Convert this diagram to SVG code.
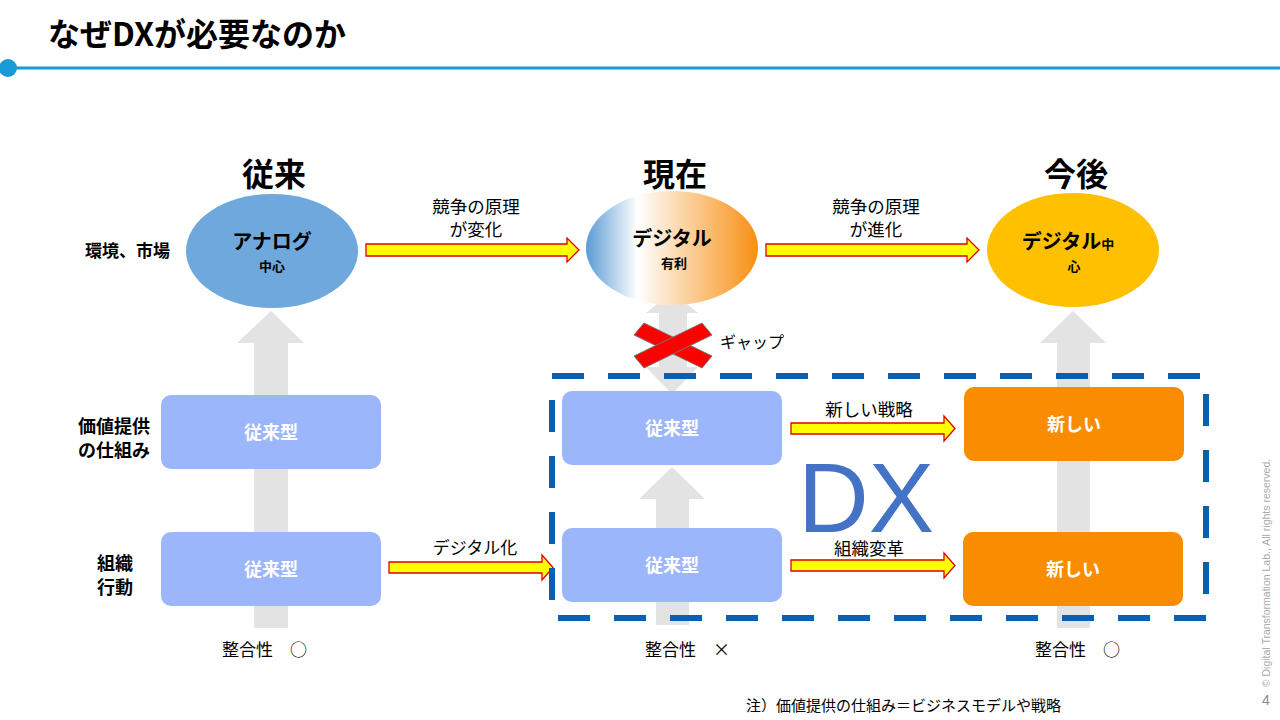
<svg xmlns="http://www.w3.org/2000/svg" width="1280" height="720" viewBox="0 0 1280 720">
<defs>
<linearGradient id="gMid" x1="0" y1="0" x2="1" y2="0">
<stop offset="0" stop-color="#5b9bd5"/>
<stop offset="0.3" stop-color="#ffffff"/>
<stop offset="1" stop-color="#f88f12"/>
</linearGradient>
<style>
text{font-family:"Noto Sans CJK JP","Noto Sans",sans-serif;fill:#000}
.h{font-size:32px;font-weight:bold;text-anchor:middle}
.lbl{font-size:18px;font-weight:bold}
.t{font-size:17.5px;text-anchor:middle}
.bx{font-size:18px;font-weight:bold;fill:#fff;text-anchor:middle}
.e1{font-size:20px;font-weight:bold;text-anchor:middle}
.e2{font-size:13px;font-weight:bold;text-anchor:middle}
.blue{fill:#9cb6fb}
.orange{fill:#f98c00}
.gray{fill:#e3e3e3}
.yarrow{fill:#ffff00;stroke:#e00000;stroke-width:1.3}
</style>
</defs>
<rect width="1280" height="720" fill="#fff"/>

<g id="title">
<text x="48" y="46" style="font-size:32px;font-weight:bold">なぜDXが必要なのか</text>
<line x1="8" y1="68" x2="1280" y2="68" stroke="#169bd7" stroke-width="3"/>
<circle cx="8" cy="68" r="9" fill="#169bd7"/>
</g>

<g id="headings">
<text class="h" x="274" y="186">従来</text>
<text class="h" x="675" y="186">現在</text>
<text class="h" x="1076" y="186">今後</text>
</g>

<g id="row-labels">
<text class="lbl" x="85" y="257" style="font-size:17px">環境、市場</text>
<text class="lbl" x="78" y="433">価値提供</text>
<text class="lbl" x="78" y="457">の仕組み</text>
<text class="lbl" x="97" y="570">組織</text>
<text class="lbl" x="97" y="594">行動</text>
</g>

<g id="connectors">
<polygon class="gray" points="271,311 304,343 288,343 288,628 254,628 254,343 237,343"/>
<polygon class="gray" points="1073,311 1106,343 1090,343 1090,628 1057,628 1057,343 1040,343"/>
<polygon class="gray" points="672,292 698,313 687,313 687,367 698,367 672,394 646,367 659,367 659,313 646,313"/>
<polygon class="gray" points="672,467 705,499 689,499 689,625 656,625 656,499 639,499"/>
<polygon class="yarrow" points="366,244 567,244 567,238 579,250 567,262 567,256 366,256"/>
<polygon class="yarrow" points="766,244 967,244 967,238 979,250 967,262 967,256 766,256"/>
<polygon class="yarrow" points="389,562 542,562 542,555 553,567.5 542,580 542,573 389,573"/>
<polygon class="yarrow" points="791,423 944,423 944,416 955,428.5 944,441 944,434 791,434"/>
<polygon class="yarrow" points="791,560 944,560 944,553 955,565.5 944,578 944,571 791,571"/>
</g>

<g id="ellipse-left">
<ellipse cx="272" cy="251" rx="86" ry="57" fill="#6fa8dc"/>
<text class="e1" x="272" y="249">アナログ</text>
<text class="e2" x="272" y="271">中心</text>
</g>
<g id="ellipse-mid">
<ellipse cx="672" cy="248" rx="86" ry="57" fill="url(#gMid)"/>
<text class="e1" x="672" y="246">デジタル</text>
<text class="e2" x="674" y="268">有利</text>
</g>
<g id="ellipse-right">
<ellipse cx="1073" cy="250" rx="86" ry="57" fill="#ffc000"/>
<text x="1068" y="249" style="text-anchor:middle;font-weight:bold"><tspan style="font-size:20px">デジタル</tspan><tspan style="font-size:13px">中</tspan></text>
<text class="e2" x="1074" y="271">心</text>
</g>

<g id="edge-labels">
<text class="t" x="476" y="213">競争の原理</text>
<text class="t" x="476" y="236">が変化</text>
<text class="t" x="876" y="213">競争の原理</text>
<text class="t" x="876" y="236">が進化</text>
<text class="t" x="475" y="554" style="font-size:17px">デジタル化</text>
<text class="t" x="869" y="416">新しい戦略</text>
<text class="t" x="869" y="555">組織変革</text>
<text x="720" y="348" style="font-size:16px">ギャップ</text>
</g>

<g id="dx-frame">
<rect x="552" y="376" width="654" height="242" fill="none" stroke="#0b5fb0" stroke-width="6" stroke-dasharray="32,24"/>
<text x="866" y="532" style="font-size:98px;fill:#4472c4;text-anchor:middle;font-family:'Liberation Sans',Arial,sans-serif">DX</text>
</g>

<g id="box-l1"><rect class="blue" x="161" y="395" width="220" height="74" rx="10"/><text class="bx" x="271" y="439">従来型</text></g>
<g id="box-l2"><rect class="blue" x="161" y="532" width="220" height="74" rx="10"/><text class="bx" x="271" y="576">従来型</text></g>
<g id="box-m1"><rect class="blue" x="562" y="391" width="220" height="74" rx="10"/><text class="bx" x="672" y="435">従来型</text></g>
<g id="box-m2"><rect class="blue" x="562" y="528" width="220" height="74" rx="10"/><text class="bx" x="672" y="572">従来型</text></g>
<g id="box-r1"><rect class="orange" x="964" y="387" width="220" height="74" rx="10"/><text class="bx" x="1074" y="431">新しい</text></g>
<g id="box-r2"><rect class="orange" x="963" y="532" width="220" height="74" rx="10"/><text class="bx" x="1073" y="576">新しい</text></g>

<g id="gap-x">
<polygon points="634,335 644,323 712,356 702,368" fill="#ff0000" stroke="#777" stroke-width="1"/>
<polygon points="634,356 702,323 712,335 644,368" fill="#ff0000" stroke="#777" stroke-width="1"/>
</g>

<g id="footer">
<text x="222" y="656" style="font-size:17px">整合性　○</text>
<text x="645" y="656" style="font-size:17px">整合性　×</text>
<text x="1035" y="656" style="font-size:17px">整合性　○</text>
<text x="746" y="711" style="font-size:15px">注）価値提供の仕組み＝ビジネスモデルや戦略</text>
<text transform="translate(1270,573) rotate(-90)" style="font-size:10.5px;fill:#aaa;text-anchor:middle;font-family:'Liberation Sans',Arial,sans-serif">© Digital Transformation Lab., All rights reserved.</text>
<text x="1266" y="705" style="font-size:14px;fill:#888;text-anchor:middle;font-family:'Liberation Sans',Arial,sans-serif">4</text>
</g>
</svg>
